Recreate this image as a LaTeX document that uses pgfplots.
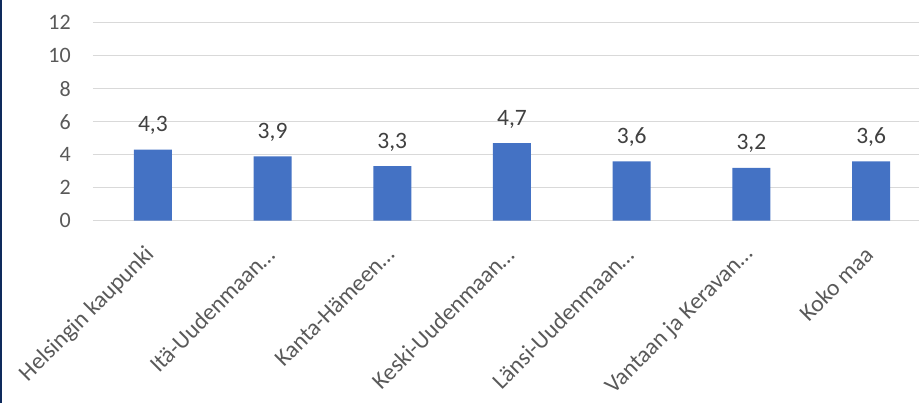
\documentclass[border=0pt]{standalone}
\usepackage{pgfplots}
\pgfplotsset{compat=1.18}
\usepackage{fontspec}
\setmainfont{Carlito}
\definecolor{barblue}{HTML}{4472C4}
\definecolor{gridgray}{HTML}{D9D9D9}
\definecolor{txtgray}{HTML}{595959}
\definecolor{lblgray}{HTML}{404040}
\definecolor{navy}{HTML}{0E2A5C}
\begin{document}
\begin{tikzpicture}
\begin{axis}[
  at={(0pt,0pt)}, anchor=south west,
  width=826pt, height=198pt, scale only axis,
  xmin=-0.5, xmax=6.4, ymin=0, ymax=12,
  ytick={0,2,...,12},
  xtick={0,...,6},
  xticklabels={Helsingin kaupunki, Itä-Uudenmaan…, Kanta-Hämeen…, Keski-Uudenmaan…, Länsi-Uudenmaan…, Vantaan ja Keravan…, Koko maa},
  axis line style={draw=none},
  major tick length=0pt,
  ymajorgrids, grid style={gridgray, line width=1.6pt},
  /pgf/number format/assume math mode=true,
  yticklabel style={font=\fontsize{22}{26}\selectfont, text=txtgray, anchor=east, inner sep=0pt, xshift=-22pt},
  xticklabel style={font=\fontsize{23.5}{28}\selectfont, text=txtgray, xshift=-2pt, yshift=-30pt, rotate=45, anchor=east, inner sep=0pt},
  ybar, bar width=38pt, bar shift=0pt,
  nodes near coords,
  nodes near coords style={font=\fontsize{23.5}{27}\selectfont, text=lblgray, anchor=base, inner sep=0pt, yshift=18pt,
    /pgf/number format/.cd, use comma, fixed, fixed zerofill, precision=1},
  clip=false,
]
\addplot[fill=barblue, draw=none] coordinates {(0,4.3) (1,3.9) (2,3.3) (3,4.7) (4,3.6) (5,3.2) (6,3.6)};
\end{axis}
\pgfresetboundingbox
\useasboundingbox (-93pt,-182.3pt) rectangle (826pt,220.7pt);
\draw[navy, line width=2pt] (-92pt,-182.3pt) -- (-92pt,220.7pt);
\end{tikzpicture}
\end{document}
